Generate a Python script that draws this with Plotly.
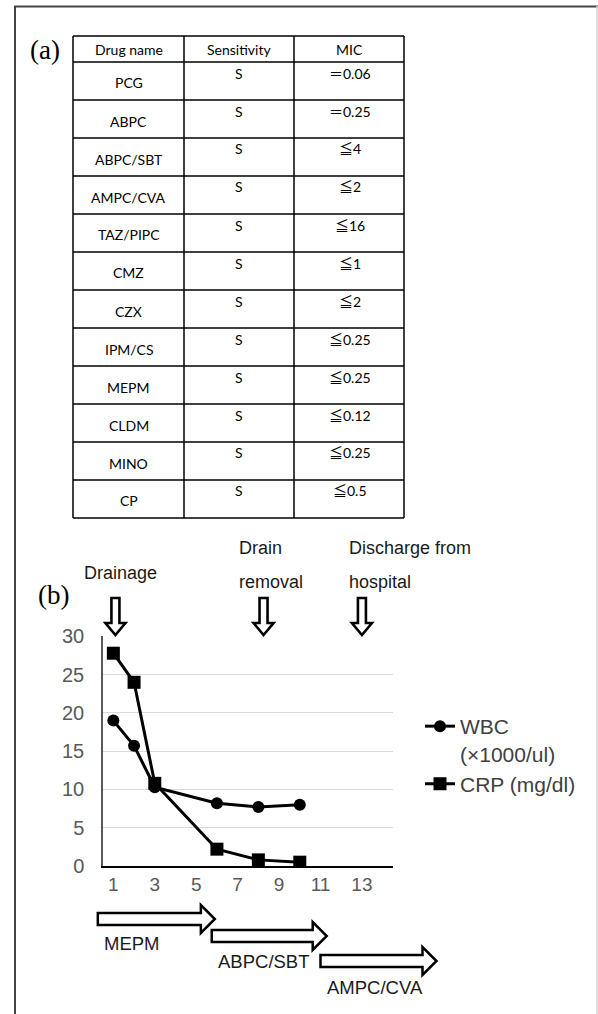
import plotly.graph_objects as go

# ---------------- data ----------------
drug_names = ["PCG", "ABPC", "ABPC/SBT", "AMPC/CVA", "TAZ/PIPC", "CMZ",
              "CZX", "IPM/CS", "MEPM", "CLDM", "MINO", "CP"]
sensitivity = ["S", "S", "S", "S", "S", "S", "S", "S", "S", "S", "S", "S"]
mic_values = ["＝0.06", "＝0.25", "≦4", "≦2", "≦16", "≦1",
              "≦2", "≦0.25", "≦0.25", "≦0.12", "≦0.25", "≦0.5"]
table_header = ["Drug name", "Sensitivity", "MIC"]

days = [1, 2, 3, 6, 8, 10]
wbc = [19.0, 15.7, 10.3, 8.2, 7.7, 8.0]
crp = [27.8, 24.0, 10.8, 2.2, 0.8, 0.5]
x_ticks = [1, 3, 5, 7, 9, 11, 13]
y_ticks = [0, 5, 10, 15, 20, 25, 30]

event_days = [1.1, 8.25, 13.0]
event_lines = [["Drainage"], ["Drain", "removal"], ["Discharge from", "hospital"]]

therapy_names = ["MEPM", "ABPC/SBT", "AMPC/CVA"]
therapy_start = [0.25, 5.75, 11.0]
therapy_end = [5.9, 11.3, 16.6]

# ---------------- layout helpers ----------------
W, H = 598, 1014
def PX(x):
    return x / W
def PY(y):
    return 1 - y / H

AX_L, AX_R = 103, 393
AX_T, AX_B = 636, 866
X_MIN, X_MAX = 0.5, 14.5
def day_px(d):
    return AX_L + (d - X_MIN) / (X_MAX - X_MIN) * (AX_R - AX_L)

fig = go.Figure()

fig.add_trace(go.Scatter(
    x=days, y=wbc, name="WBC<br>(×1000/ul)", mode="lines+markers",
    line=dict(color="black", width=3),
    marker=dict(symbol="circle", size=12, color="black")))
fig.add_trace(go.Scatter(
    x=days, y=crp, name="CRP (mg/dl)", mode="lines+markers",
    line=dict(color="black", width=3),
    marker=dict(symbol="square", size=13, color="black")))

shapes = []
annotations = []

# page border
shapes.append(dict(type="line", xref="paper", yref="paper", x0=PX(14), x1=PX(598),
                   y0=PY(6.5), y1=PY(6.5), line=dict(color="#444444", width=2)))
shapes.append(dict(type="line", xref="paper", yref="paper", x0=PX(15), x1=PX(15),
                   y0=PY(6), y1=PY(1014), line=dict(color="#444444", width=2)))
shapes.append(dict(type="line", xref="paper", yref="paper", x0=PX(597), x1=PX(597),
                   y0=PY(6), y1=PY(1014), line=dict(color="#d4d4d4", width=1.5)))

# ---------------- table (a) ----------------
col_x = [73, 184, 294, 404]
t_top, h_bot, row_h = 36, 62, 38
n_rows = len(drug_names)
t_bot = h_bot + row_h * n_rows
tline = dict(color="black", width=1.5)
for cx in col_x:
    shapes.append(dict(type="line", xref="paper", yref="paper", x0=PX(cx), x1=PX(cx),
                       y0=PY(t_top), y1=PY(t_bot), line=tline))
for yy in [t_top] + [h_bot + row_h * i for i in range(n_rows + 1)]:
    shapes.append(dict(type="line", xref="paper", yref="paper", x0=PX(col_x[0]), x1=PX(col_x[-1]),
                       y0=PY(yy), y1=PY(yy), line=tline))

tfont = dict(family="Lato, 'Noto Sans CJK JP', sans-serif", size=14, color="black")
col_c = [(col_x[i] + col_x[i + 1]) / 2 for i in range(3)]
for i, h in enumerate(table_header):
    annotations.append(dict(x=PX(col_c[i]), y=PY(49.5), xref="paper", yref="paper", text=h,
                            showarrow=False, xanchor="center", yanchor="middle", font=tfont))
for r in range(n_rows):
    top = h_bot + row_h * r
    annotations.append(dict(x=PX(col_c[0]), y=PY(top + 21), xref="paper", yref="paper",
                            text=drug_names[r], showarrow=False, xanchor="center",
                            yanchor="middle", font=tfont))
    annotations.append(dict(x=PX(col_c[1]), y=PY(top + 11), xref="paper", yref="paper",
                            text=sensitivity[r], showarrow=False, xanchor="center",
                            yanchor="middle", font=tfont))
    annotations.append(dict(x=PX(col_c[2] + 1), y=PY(top + 11), xref="paper", yref="paper",
                            text=mic_values[r], showarrow=False, xanchor="center",
                            yanchor="middle", font=tfont))

serif = dict(family="Liberation Serif, Times New Roman, serif", size=27, color="black")
annotations.append(dict(x=PX(45), y=PY(50), xref="paper", yref="paper", text="(a)",
                        showarrow=False, xanchor="center", yanchor="middle", font=serif))
annotations.append(dict(x=PX(53), y=PY(595), xref="paper", yref="paper", text="(b)",
                        showarrow=False, xanchor="center", yanchor="middle", font=serif))

# ---------------- event arrows ----------------
sfont = dict(family="Liberation Sans, Arial, sans-serif", size=18, color="#1a1a1a")
def down_arrow(cx, top=598, head=623, tip=635, sw=4, hw=10):
    pts = [(cx - sw, top), (cx + sw, top), (cx + sw, head), (cx + hw, head), (cx, tip),
           (cx - hw, head), (cx - sw, head)]
    p = "M " + " L ".join(f"{PX(a):.5f},{PY(b):.5f}" for a, b in pts) + " Z"
    return dict(type="path", xref="paper", yref="paper", path=p, fillcolor="white",
                line=dict(color="black", width=2.6))

event_text_pos = [[(120, 573, "center")], [(237, 548, "left"), (237, 582, "left")],
                  [(347, 548, "left"), (347, 582, "left")]]
for d, lines, poss in zip(event_days, event_lines, event_text_pos):
    shapes.append(down_arrow(day_px(d)))
    for t, (tx, ty, anc) in zip(lines, poss):
        annotations.append(dict(x=PX(tx), y=PY(ty), xref="paper", yref="paper", text=t,
                                showarrow=False, xanchor=anc, yanchor="middle", font=sfont))

# ---------------- therapy arrows ----------------
therapy_cy = [919, 936, 961]
label_y = [943, 961, 987]
for name, s, e, cy, ly in zip(therapy_names, therapy_start, therapy_end, therapy_cy, label_y):
    x0, x1 = day_px(s), day_px(e)
    hs = x1 - 14
    pts = [(x0, cy - 6), (hs, cy - 6), (hs, cy - 14), (x1, cy), (hs, cy + 14),
           (hs, cy + 6), (x0, cy + 6)]
    p = "M " + " L ".join(f"{PX(a):.5f},{PY(b):.5f}" for a, b in pts) + " Z"
    shapes.append(dict(type="path", xref="paper", yref="paper", path=p, fillcolor="white",
                       line=dict(color="black", width=2.5)))
    annotations.append(dict(x=PX(x0 + 4), y=PY(ly), xref="paper", yref="paper", text=name,
                            showarrow=False, xanchor="left", yanchor="middle",
                            font=dict(family="Liberation Sans, Arial, sans-serif", size=18.5,
                                      color="#1a1a1a")))

fig.update_layout(
    width=W, height=H,
    margin=dict(l=0, r=0, t=0, b=0),
    paper_bgcolor="white", plot_bgcolor="white",
    shapes=shapes, annotations=annotations,
    showlegend=True,
    legend=dict(x=PX(420), y=PY(706), xanchor="left", yanchor="top",
                font=dict(family="Liberation Sans, Arial, sans-serif", size=21, color="#404040"),
                bgcolor="rgba(0,0,0,0)", valign="top", tracegroupgap=0),
    xaxis=dict(domain=[PX(AX_L), PX(AX_R)], range=[X_MIN, X_MAX], tickvals=x_ticks,
               automargin=False,
               showgrid=False, zeroline=False, showline=True, linecolor="black", linewidth=1.5,
               ticks="", 
               tickfont=dict(family="Liberation Sans, Arial, sans-serif", size=19, color="#595959")),
    yaxis=dict(domain=[PY(AX_B), PY(AX_T)], range=[0, 30.05], tickvals=y_ticks,
               automargin=False,
               showgrid=True, gridcolor="#d9d9d9", gridwidth=1, zeroline=False,
               showline=True, linecolor="#595959", linewidth=1.5,
               ticks="outside", ticklen=13, tickcolor="rgba(0,0,0,0)",
               tickfont=dict(family="Liberation Sans, Arial, sans-serif", size=20, color="#595959")),
)

fig.write_html("out.html", config={"displayModeBar": False},
               post_script="document.body.style.margin='0';document.body.style.overflow='hidden';")
